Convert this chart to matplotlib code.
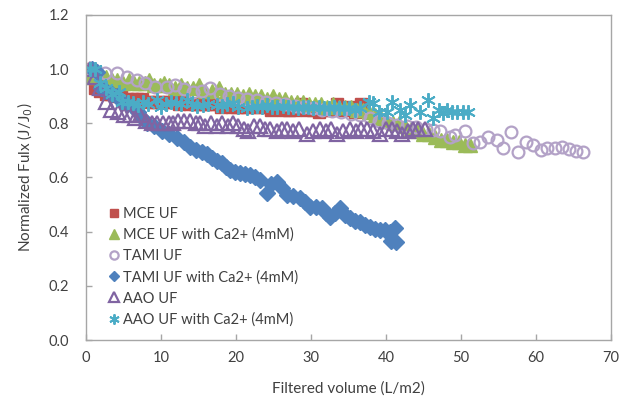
import matplotlib
matplotlib.use("Agg")
import matplotlib.pyplot as plt

plt.rcParams['font.family'] = ['Lato', 'DejaVu Sans']

# MCE UF
mce_x = [0.5, 1.2, 1.9, 2.6, 3.3, 4.0, 4.7, 5.4, 6.1, 6.8, 7.5, 8.2, 8.9, 9.6, 10.3,
         11.0, 11.7, 12.4, 13.1, 13.8, 14.5, 15.2, 15.9, 16.6, 17.3, 18.0, 18.7, 19.4,
         20.1, 20.8, 21.5, 22.3, 23.1, 23.9, 24.7, 25.5, 26.3, 27.1, 27.9, 28.7, 29.5,
         30.3, 31.1, 31.9, 32.7, 33.5, 34.3, 35.1, 35.9, 36.7]
mce_y = [1.00, 0.93, 0.92, 0.91, 0.91, 0.90, 0.90, 0.89, 0.89, 0.89, 0.89, 0.88, 0.88,
         0.88, 0.88, 0.88, 0.88, 0.87, 0.88, 0.87, 0.87, 0.87, 0.87, 0.87, 0.87, 0.86,
         0.87, 0.86, 0.86, 0.86, 0.86, 0.86, 0.86, 0.86, 0.85, 0.86, 0.85, 0.85, 0.85,
         0.87, 0.85, 0.85, 0.84, 0.85, 0.85, 0.87, 0.85, 0.86, 0.84, 0.87]

# MCE UF with Ca2+
mce_ca_x = [0.5, 1.2, 1.9, 2.7, 3.4, 4.1, 4.9, 5.7, 6.4, 7.1, 7.8, 8.4, 9.1, 9.8, 10.4,
            11.1, 11.9, 12.7, 13.4, 14.2, 15.1, 15.9, 16.8, 17.7, 18.5, 19.3, 20.1, 20.9,
            21.7, 22.5, 23.3, 24.1, 24.9, 25.7, 26.5, 27.3, 28.1, 28.9, 29.7, 30.5, 31.3,
            32.1, 32.9, 33.7, 34.5, 35.3, 36.1, 36.9, 37.7, 38.5, 39.3, 40.1, 40.9, 41.7,
            42.5, 43.3, 44.1, 44.9, 45.7, 46.5, 47.3, 48.1, 48.9, 49.7, 50.5, 51.2]
mce_ca_y = [0.97, 0.99, 0.97, 0.97, 0.96, 0.96, 0.95, 0.96, 0.95, 0.95, 0.95, 0.96, 0.94,
            0.94, 0.95, 0.94, 0.93, 0.94, 0.93, 0.93, 0.94, 0.92, 0.92, 0.93, 0.91, 0.91,
            0.91, 0.90, 0.91, 0.90, 0.90, 0.89, 0.90, 0.89, 0.89, 0.88, 0.88, 0.88, 0.87,
            0.87, 0.87, 0.86, 0.87, 0.86, 0.86, 0.86, 0.85, 0.85, 0.84, 0.83, 0.82, 0.81,
            0.80, 0.80, 0.79, 0.78, 0.77, 0.76, 0.76, 0.75, 0.74, 0.74, 0.73, 0.73, 0.72,
            0.72]

# TAMI UF
tami_x = [0.5, 1.5, 2.5, 4.1, 5.4, 6.8, 7.9, 9.2, 10.8, 11.9, 13.1, 14.3, 15.4, 16.5,
          17.8, 19.0, 20.3, 21.5, 22.8, 24.0, 25.3, 26.5, 27.8, 29.0, 30.3, 31.5, 32.8,
          34.0, 35.3, 36.5, 37.8, 39.0, 40.3, 41.5, 42.8, 44.0, 45.3, 46.2, 47.2, 48.5,
          49.2, 50.5, 51.6, 52.5, 53.6, 54.8, 55.6, 56.7, 57.6, 58.7, 59.6, 60.6, 61.5,
          62.5, 63.5, 64.4, 65.3, 66.2]
tami_y = [1.00, 0.99, 0.985, 0.985, 0.972, 0.96, 0.95, 0.935, 0.935, 0.94, 0.925, 0.917,
          0.92, 0.93, 0.91, 0.90, 0.895, 0.89, 0.885, 0.88, 0.875, 0.87, 0.865, 0.86,
          0.855, 0.85, 0.845, 0.84, 0.835, 0.83, 0.82, 0.81, 0.80, 0.795, 0.79, 0.785,
          0.78, 0.775, 0.77, 0.75, 0.757, 0.77, 0.727, 0.732, 0.75, 0.739, 0.71, 0.768,
          0.695, 0.732, 0.72, 0.70, 0.71, 0.71, 0.714, 0.705, 0.698, 0.695]

# TAMI UF with Ca2+
tami_ca_x = [0.8, 1.5, 2.0, 2.7, 3.4, 4.1, 4.8, 5.5, 6.2, 6.9, 7.5, 8.1, 9.0, 10.1, 11.0,
             12.1, 13.0, 13.9, 14.6, 15.4, 16.1, 16.8, 17.4, 18.1, 18.7, 19.2, 19.9, 20.5,
             21.2, 21.9, 22.5, 23.2, 24.1, 24.7, 25.4, 26.1, 26.8, 27.6, 28.5, 29.2, 29.9,
             30.6, 31.4, 32.0, 32.5, 33.2, 33.9, 34.5, 35.2, 35.8, 36.5, 37.2, 37.9, 38.5,
             39.2, 39.8, 40.5, 41.2, 40.6, 41.3]
tami_ca_y = [1.00, 0.99, 0.93, 0.92, 0.91, 0.90, 0.88, 0.87, 0.86, 0.84, 0.82, 0.80, 0.79,
             0.77, 0.76, 0.745, 0.73, 0.714, 0.70, 0.695, 0.685, 0.671, 0.66, 0.652, 0.64,
             0.628, 0.62, 0.616, 0.612, 0.609, 0.60, 0.591, 0.542, 0.575, 0.585, 0.56,
             0.535, 0.53, 0.523, 0.51, 0.492, 0.49, 0.486, 0.47, 0.455, 0.47, 0.486, 0.46,
             0.449, 0.44, 0.437, 0.425, 0.418, 0.41, 0.406, 0.405, 0.40, 0.412, 0.365, 0.363]

# AAO UF
aao_x = [0.5, 1.2, 1.9, 2.6, 3.3, 4.3, 5.1, 5.9, 6.5, 7.2, 8.0, 8.8, 9.5, 10.3, 11.0,
         11.6, 12.3, 13.1, 13.9, 14.6, 15.2, 15.9, 16.6, 17.4, 18.1, 18.9, 19.6, 20.3,
         21.0, 21.6, 22.4, 23.2, 23.8, 24.5, 25.4, 26.1, 26.8, 27.6, 28.4, 29.4, 30.2,
         31.2, 32.0, 32.7, 33.4, 34.2, 35.2, 36.0, 36.7, 37.4, 38.3, 39.2, 40.0, 40.8,
         41.5, 42.1, 42.9, 43.6, 44.3, 45.2]
aao_y = [1.00, 0.97, 0.93, 0.88, 0.85, 0.84, 0.83, 0.83, 0.82, 0.83, 0.81, 0.80, 0.80,
         0.80, 0.80, 0.80, 0.81, 0.81, 0.81, 0.80, 0.80, 0.79, 0.80, 0.79, 0.80, 0.79,
         0.80, 0.79, 0.78, 0.77, 0.79, 0.79, 0.78, 0.78, 0.77, 0.78, 0.78, 0.77, 0.78,
         0.76, 0.77, 0.78, 0.77, 0.78, 0.76, 0.77, 0.78, 0.77, 0.78, 0.78, 0.77, 0.76,
         0.78, 0.78, 0.77, 0.76, 0.77, 0.78, 0.78, 0.78]

# AAO UF with Ca2+
aao_ca_x = [0.5, 1.2, 1.9, 2.6, 3.4, 4.4, 4.8, 5.6, 6.2, 6.9, 7.6, 8.3, 9.4, 10.0, 10.7,
            11.3, 12.0, 12.7, 13.4, 14.1, 14.8, 15.6, 16.3, 17.4, 18.1, 18.8, 19.6, 20.3,
            21.4, 22.1, 22.8, 23.5, 24.1, 24.8, 25.5, 26.2, 26.9, 27.6, 28.3, 28.9, 29.6,
            30.3, 31.0, 31.7, 32.4, 33.0, 33.7, 34.4, 35.1, 35.8, 36.5, 37.7, 38.3, 39.0,
            40.1, 40.8, 41.8, 42.5, 43.2, 44.5, 45.6, 46.3, 47.0, 47.6, 48.1, 48.8, 49.4,
            50.3, 50.9]
aao_ca_y = [1.00, 1.00, 0.95, 0.93, 0.91, 0.917, 0.88, 0.88, 0.875, 0.868, 0.88, 0.87,
            0.886, 0.86, 0.87, 0.88, 0.875, 0.87, 0.886, 0.87, 0.865, 0.868, 0.87, 0.868,
            0.865, 0.87, 0.875, 0.86, 0.856, 0.86, 0.865, 0.86, 0.868, 0.86, 0.86, 0.865,
            0.86, 0.86, 0.855, 0.86, 0.86, 0.855, 0.86, 0.855, 0.858, 0.86, 0.857, 0.855,
            0.855, 0.85, 0.855, 0.88, 0.875, 0.84, 0.843, 0.88, 0.85, 0.83, 0.868, 0.843,
            0.886, 0.82, 0.85, 0.838, 0.85, 0.84, 0.843, 0.843, 0.84]

labels = ["MCE UF", "MCE UF with Ca2+ (4mM)", "TAMI UF", "TAMI UF with Ca2+ (4mM)",
          "AAO UF", "AAO UF with Ca2+ (4mM)"]
x_ticks = [0, 10, 20, 30, 40, 50, 60, 70]
y_ticks = [0.0, 0.2, 0.4, 0.6, 0.8, 1.0, 1.2]

fig = plt.figure(figsize=(6.22, 4.03), dpi=100)
ax = fig.add_axes([86 / 622, 1 - 340 / 403, (611 - 86) / 622, (340 - 15) / 403])

ax.plot(mce_x, mce_y, ls='none', marker='s', ms=8, color='#C0504D', label=labels[0])
ax.plot(mce_ca_x, mce_ca_y, ls='none', marker='^', ms=10, color='#9BBB59', label=labels[1])
ax.plot(tami_x, tami_y, ls='none', marker='o', ms=8.5, mfc='none', mec='#B3A2C7',
        mew=1.6, label=labels[2])
ax.plot(tami_ca_x, tami_ca_y, ls='none', marker='D', ms=7.8, color='#4F81BD', label=labels[3])
ax.plot(aao_x, aao_y, ls='none', marker='^', ms=10, mfc='none', mec='#8064A2',
        mew=1.6, label=labels[4])
ax.plot(aao_ca_x, aao_ca_y, ls='none', marker=(6, 2, 0), ms=10.5, mec='#4BACC6',
        mew=1.4, label=labels[5])

ax.set_xlim(0, 70)
ax.set_ylim(0, 1.2)
ax.set_xticks(x_ticks)
ax.set_yticks(y_ticks)
ax.set_yticklabels([f"{v:.1f}" for v in y_ticks])

for sp in ax.spines.values():
    sp.set_color('#A6A6A6')
    sp.set_linewidth(1.0)
ax.tick_params(direction='in', length=4, width=1, color='#A6A6A6',
               labelsize=10.5, labelcolor='#404040', pad=8)
ax.tick_params(axis='y', pad=12)

ax.set_xlabel("Filtered volume (L/m2)", fontsize=11, color='#404040', labelpad=12)
ax.set_ylabel("Normalized Fulx (J/J$_0$)", fontsize=11, color='#404040', labelpad=10)

leg = ax.legend(loc='lower left', bbox_to_anchor=(0.02, 0.0), frameon=False,
                fontsize=10.5, markerscale=0.7, handlelength=0.6, handletextpad=0.35,
                labelspacing=0.48, borderaxespad=0.5)
for t in leg.get_texts():
    t.set_color('#404040')

fig.savefig("out.png", dpi=100)
